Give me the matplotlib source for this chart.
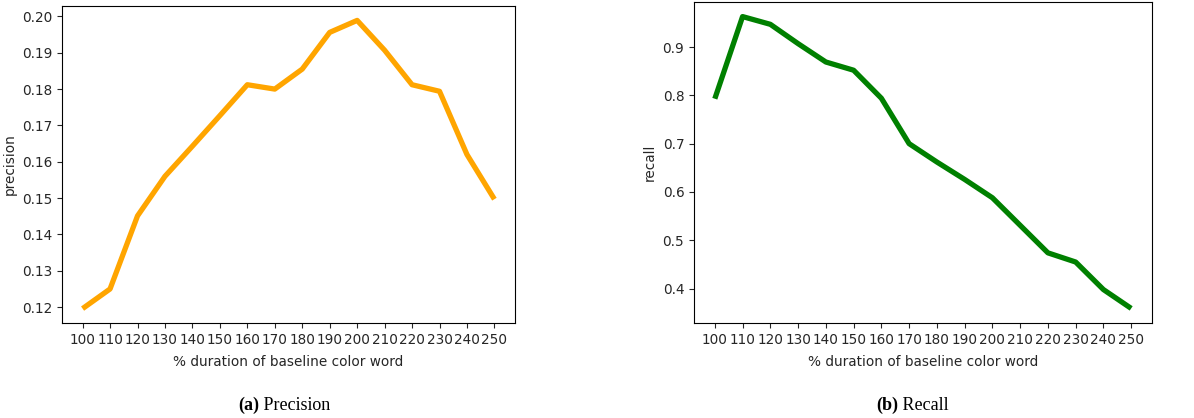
import numpy as np
import matplotlib
matplotlib.use("Agg")
import matplotlib.pyplot as plt

# % duration of baseline color word
durations = [100, 110, 120, 130, 140, 150, 160, 170, 180, 190, 200, 210, 220, 230, 240, 250]
precision = [0.1196, 0.1250, 0.1451, 0.1560, 0.1643, 0.1727, 0.1812, 0.1800, 0.1855, 0.1956,
             0.1989, 0.1907, 0.1812, 0.1794, 0.1620, 0.1497]
recall = [0.793, 0.963, 0.947, 0.907, 0.869, 0.852, 0.794, 0.700, 0.662, 0.626,
          0.588, 0.531, 0.474, 0.455, 0.398, 0.359]
xlabel = "% duration of baseline color word"

W, H = 1194, 418
fig = plt.figure(figsize=(W / 100, H / 100), dpi=100)

def box(l, t, r, b):
    return [l / W, 1 - b / H, (r - l) / W, (b - t) / H]

ax1 = fig.add_axes(box(62, 6, 515, 323))
ax2 = fig.add_axes(box(694, 2, 1152, 323))

for ax, vals, col, lab in [(ax1, precision, "#FFA500", "precision"),
                           (ax2, recall, "#008000", "recall")]:
    ax.plot(durations, vals, color=col, linewidth=3.8, solid_capstyle="butt")
    ax.set_xticks(durations)
    ax.set_xticklabels([str(d) for d in durations])
    ax.tick_params(labelsize=9.8, colors="#262626", labelcolor="#262626")
    ax.set_xlabel(xlabel, fontsize=9.8, color="#262626", labelpad=6)
    ax.set_ylabel(lab, fontsize=9.8, color="#262626")

ax2.set_yticks([0.4, 0.5, 0.6, 0.7, 0.8, 0.9])

# captions
cap_y = 1 - 405 / H
for xs, tag, name in [(259, "(a)", " Precision"), (898, "(b)", " Recall")]:
    fig.text(xs / W, cap_y, tag, ha="right", va="center", fontsize=13,
             fontweight="bold", family="Liberation Serif")
    fig.text(xs / W, cap_y, name, ha="left", va="center", fontsize=13,
             family="Liberation Serif")

fig.savefig("out.png", dpi=100)
